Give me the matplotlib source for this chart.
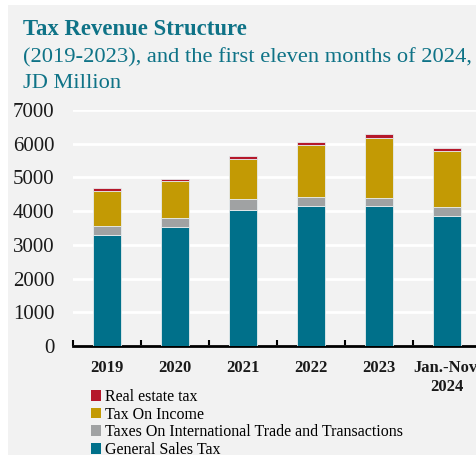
import matplotlib
matplotlib.use("Agg")
import matplotlib.pyplot as plt
from matplotlib.patches import Rectangle, Patch
import numpy as np

categories = ["2019", "2020", "2021", "2022", "2023", "Jan.-Nov.\n2024"]
general_sales = [3292, 3520, 4034, 4162, 4143, 3866]
intl_trade = [277, 286, 336, 248, 247, 247]
income_tax = [1038, 1098, 1187, 1542, 1770, 1671]
real_estate = [70, 49, 69, 99, 118, 89]
y_ticks = [0, 1000, 2000, 3000, 4000, 5000, 6000, 7000]

series = [
    ("General Sales Tax", general_sales, "#00708a"),
    ("Taxes On International Trade and Transactions", intl_trade, "#a0a2a3"),
    ("Tax On Income", income_tax, "#c39a04"),
    ("Real estate tax", real_estate, "#b5182b"),
]

W, H = 476, 455
fig = plt.figure(figsize=(W / 100, H / 100), dpi=100, facecolor="white")
serif = ["Liberation Serif", "DejaVu Serif"]
title_color = "#0f7387"

# gray panel behind everything
fig.patches.append(Rectangle((8 / W, 0), 1 - 8 / W, 1 - 5 / H, transform=fig.transFigure,
                             facecolor="#f2f2f2", edgecolor="none", zorder=-10))

ax = fig.add_axes([73 / W, (H - 346) / H, 408 / W, 236 / H])
ax.set_facecolor("none")

x = np.arange(len(categories))
bottom = np.zeros(len(categories))
handles = []
for name, vals, col in series:
    vals = np.array(vals, dtype=float)
    ax.bar(x, vals, width=0.4, bottom=bottom, color=col, edgecolor="#e6ecee",
           linewidth=0.6, zorder=3)
    bottom += vals
    handles.append(Patch(facecolor=col, edgecolor="none", label=name))

ax.set_xlim(-0.5, len(categories) - 0.5)
ax.set_ylim(0, 7000)
ax.set_yticks(y_ticks)
ax.set_yticklabels([str(v) for v in y_ticks], fontfamily=serif, fontsize=15, color="#1a1a1a")
ax.tick_params(axis="y", length=0, pad=13.5)
ax.yaxis.grid(True, color="white", linewidth=2, zorder=0)
ax.set_axisbelow(True)

ax.set_xticks(x)
ax.set_xticklabels(categories, fontfamily=serif, fontsize=12, fontweight="bold",
                   color="#1a1a1a", linespacing=1.3)
ax.tick_params(axis="x", length=0, pad=10)
ax.set_xticks(np.arange(len(categories) + 1) - 0.5, minor=True)
ax.tick_params(axis="x", which="minor", direction="in", length=4, width=1.5, color="black")

for s in ["top", "right", "left"]:
    ax.spines[s].set_visible(False)
ax.spines["bottom"].set_linewidth(2)
ax.spines["bottom"].set_color("black")

fig.text(23 / W, 1 - 35 / H, "Tax Revenue Structure", fontfamily=serif, fontsize=16.4,
         fontweight="bold", color=title_color, va="baseline", ha="left")
fig.text(23 / W, 1 - 62 / H, "(2019-2023), and the first eleven months of 2024,",
         fontfamily=serif, fontsize=16.2, color=title_color, va="baseline", ha="left")
fig.text(23 / W, 1 - 88 / H, "JD Million", fontfamily=serif, fontsize=16.2,
         color=title_color, va="baseline", ha="left")

leg = fig.legend(handles=handles[::-1], loc="upper left",
                 bbox_to_anchor=(91 / W, 1 - 389 / H), frameon=False,
                 prop={"family": serif, "size": 11.5}, handlelength=0.65,
                 handleheight=0.65, handletextpad=0.25, labelspacing=0.1,
                 borderpad=0, borderaxespad=0)

fig.savefig("out.png", dpi=100, facecolor=fig.get_facecolor())
